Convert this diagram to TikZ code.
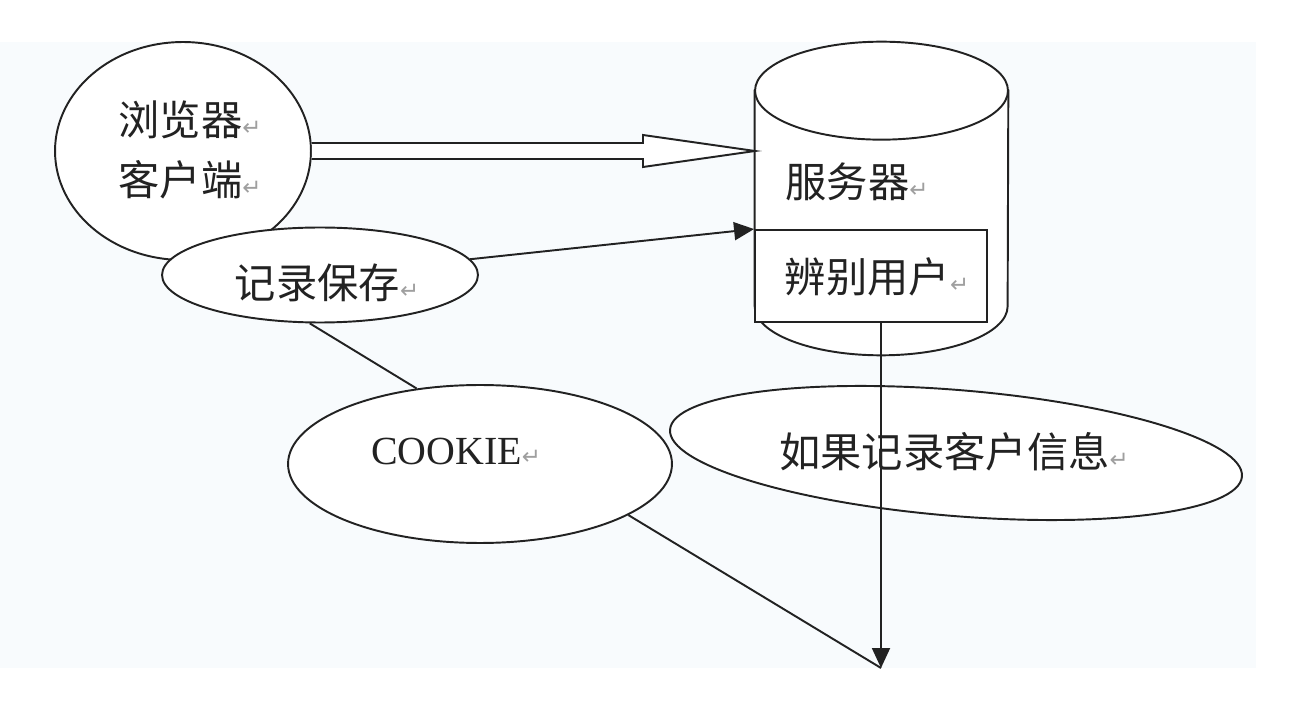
\documentclass[tikz,border=0pt]{standalone}
\usepackage{fontspec}
\setmainfont{Liberation Serif}
\newfontfamily\cjk{Noto Sans CJK SC}
\newfontfamily\retfont{DejaVu Sans}
\usepackage{tikz}
\usetikzlibrary{shapes.geometric,arrows.meta,calc,positioning}
\definecolor{bgblue}{HTML}{F8FBFD}
\definecolor{ink}{HTML}{222222}
\newcommand{\ret}{{\retfont\fontsize{13}{13}\selectfont\color{gray!75}↵}}

\begin{document}
\begin{tikzpicture}[
  x=0.02cm, y=-0.02cm,
  line/.style={draw=ink, line width=1.1pt},
  bubble/.style={ellipse, line, fill=white, inner sep=0pt},
  txt/.style={font=\cjk\fontsize{23.5}{34}\selectfont, text=ink, inner sep=0pt},
  link/.style={line, -{Triangle[length=4mm, width=3.6mm]}}
]
\useasboundingbox (0,0) rectangle (1298,722);
\fill[bgblue] (0,42) rectangle (1256,668);

% Browser client
\node[bubble, minimum width=5.12cm, minimum height=4.36cm] (browser) at (183,151) {};
\node[txt, align=left] (browsertxt) at (190,150) {浏览器\ret\\客户端\ret};

% Record / save
\node[bubble, minimum width=6.32cm, minimum height=1.9cm] (record) at (320,275) {};
\node[txt] (recordtxt) at (327,283) {记录保存\ret};

% Server cylinder
\node[minimum width=5.06cm, minimum height=4.3cm, inner sep=0pt] (server) at (881.5,198.5) {};
\draw[line, fill=white] (server.north west) -- (server.south west)
  arc[start angle=180, end angle=360, x radius=2.53cm, y radius=0.98cm]
  -- (server.north east) -- cycle;
\node[bubble, minimum width=5.06cm, minimum height=1.96cm] (srvtop) at (server.north) {};
\node[txt] (servertxt) at (857,182) {服务器\ret};

% Identify user box
\node[line, fill=white, minimum width=4.64cm, minimum height=1.84cm, inner sep=0pt] (ident) at (871,276) {};
\node[txt] (identtxt) at (877,277) {辨别用户\ret};

% Cookie and client info
\node[bubble, minimum width=7.68cm, minimum height=3.16cm] (cookie) at (480,464) {};
\node[font=\fontsize{22.7}{27}\selectfont, text=ink, inner sep=0pt] (cookietxt) at (456,451) {COOKIE\ret};
\node[bubble, rotate=-4.7, minimum width=11.48cm, minimum height=2.52cm] (info) at (956,453) {};
\node[txt] (infotxt) at (954,452) {如果记录客户信息\ret};

% Connectors
\coordinate (srvin) at (755,151);
\coordinate (tip) at (881,668);
\draw[line, fill=white] ($(browser.east)+(0,-8)$) -- ($(srvin)+(-112,-8)$)
  -- ($(srvin)+(-112,-16)$) -- (srvin) -- ($(srvin)+(-112,16)$)
  -- ($(srvin)+(-112,8)$) -- ($(browser.east)+(0,8)$);
\draw[link] (record.6) -- (ident.north west);
\draw[line] (record.-102) -- (cookie.130);
\draw[line] (cookie.-19) -- (tip);
\draw[link] (ident.south -| tip) -- (tip);
\end{tikzpicture}
\end{document}
